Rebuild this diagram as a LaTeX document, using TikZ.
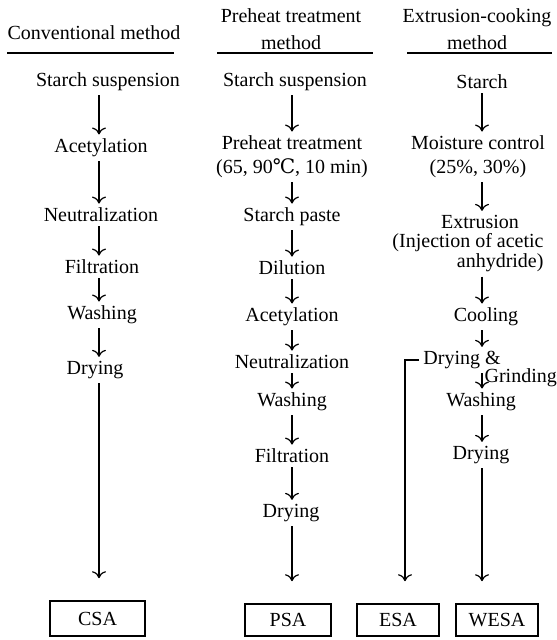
\documentclass[tikz,border=0pt]{standalone}
\usepackage{fontspec}
\setmainfont{Liberation Serif}
\newfontfamily\symfont{DejaVu Serif}
\usepackage{tikz}
\usetikzlibrary{arrows.meta}

\begin{document}
\begin{tikzpicture}[x=0.5pt, y=-0.5pt,
  every node/.style={inner sep=2pt, font=\fontsize{10}{12}\selectfont},
  flow/.style={draw, line width=0.6pt, -{To[length=3.5pt,width=7pt]}},
  sink/.style={flow, shorten >=11pt},
  res/.style={draw, line width=0.8pt, minimum width=41pt, minimum height=16pt},
  rule/.style={line width=1.2pt}]

\useasboundingbox (0,0) rectangle (556,640);

% headings
\node (h1) at (94,33) {Conventional method};
\node[align=center, font=\fontsize{10}{13.5}\selectfont] (h2) at (291,29.5) {Preheat treatment\\method};
\node[align=center, font=\fontsize{10}{13.5}\selectfont] (h3) at (477,29.5) {Extrusion-cooking\\method};
\draw[rule] (7,53) -- (174,53);
\draw[rule] (217,53) -- (373,53);
\draw[rule] (407,53) -- (552,53);

% column axes
\coordinate (c1) at (99,0);
\coordinate (c2) at (292,0);
\coordinate (c3) at (482,0);
\coordinate (c4) at (405,0);

% conventional
\node (s1) at (108,82) {Starch suspension};
\node (a1) at (101,148) {Acetylation};
\node (n1) at (101,215) {Neutralization};
\node (f1) at (102,267) {Filtration};
\node (w1) at (102,315) {Washing};
\node (d1) at (95,370) {Drying};
\node[res, minimum width=47.5pt, minimum height=17.5pt] (csa) at (97.5,618.5) {CSA};

% preheat treatment
\node (s2) at (295,82) {Starch suspension};
\node[align=center] (p2) at (292,157) {Preheat treatment\\(65, 90{\symfont ℃}, 10 min)};
\node (sp2) at (292,217) {Starch paste};
\node (di2) at (292,268) {Dilution};
\node (a2) at (292,317) {Acetylation};
\node (n2) at (292,362) {Neutralization};
\node (w2) at (292,402) {Washing};
\node (f2) at (292,456) {Filtration};
\node (d2) at (291,513) {Drying};
\node[res, minimum width=43pt] (psa) at (288,620) {PSA};

% extrusion-cooking
\node (s3) at (482,82) {Starch};
\node[align=center] (m3) at (478,157) {Moisture control\\(25\%, 30\%)};
\node (e3) at (480,222) {Extrusion};
\node[align=right, font=\fontsize{10}{10}\selectfont] (i3) at (468,253) {(Injection of acetic\\anhydride)};
\node (co3) at (486,317) {Cooling};
\node[anchor=west] (dg) at (419,360) {Drying \&};
\node (w3) at (481,402) {Washing};
\node (d3) at (481,455) {Drying};
\node[res] (esa) at (398,620) {ESA};
\node[res] (wesa) at (497,620) {WESA};

\draw[flow] (s1.south -| c1) -- (a1.north -| c1);
\draw[flow] (a1.south -| c1) -- (n1.north -| c1);
\draw[flow] (n1.south -| c1) -- (f1.north -| c1);
\draw[flow] (f1.south -| c1) -- (w1.north -| c1);
\draw[flow] (w1.south -| c1) -- (d1.north -| c1);
\draw[sink] (d1.south -| c1) -- (csa.north -| c1);

\draw[flow] (s2.south -| c2) -- (p2.north -| c2);
\draw[flow] (p2.south -| c2) -- (sp2.north -| c2);
\draw[flow] (sp2.south -| c2) -- (di2.north -| c2);
\draw[flow] (di2.south -| c2) -- (a2.north -| c2);
\draw[flow] (a2.south -| c2) -- (n2.north -| c2);
\draw[flow] (n2.south -| c2) -- (w2.north -| c2);
\draw[flow] (w2.south -| c2) -- (f2.north -| c2);
\draw[flow] (f2.south -| c2) -- (d2.north -| c2);
\draw[sink] (d2.south -| c2) -- (psa.north -| c2);

\draw[flow] (s3.south -| c3) -- (m3.north -| c3);
\draw[flow] (m3.south -| c3) -- (e3.north -| c3);
\draw[flow] (i3.south -| c3) -- (co3.north -| c3);
\draw[flow] (co3.south -| c3) -- (dg.north -| c3);
\draw[flow] (dg.south -| c3) -- node[right, pos=0.3, inner sep=1pt] {Grinding} (w3.north -| c3);
\draw[flow] (w3.south -| c3) -- (d3.north -| c3);
\draw[sink] (d3.south -| c3) -- (wesa.north -| c3);
\draw[sink] (dg.west) -| (esa.north -| c4);

\end{tikzpicture}
\end{document}
